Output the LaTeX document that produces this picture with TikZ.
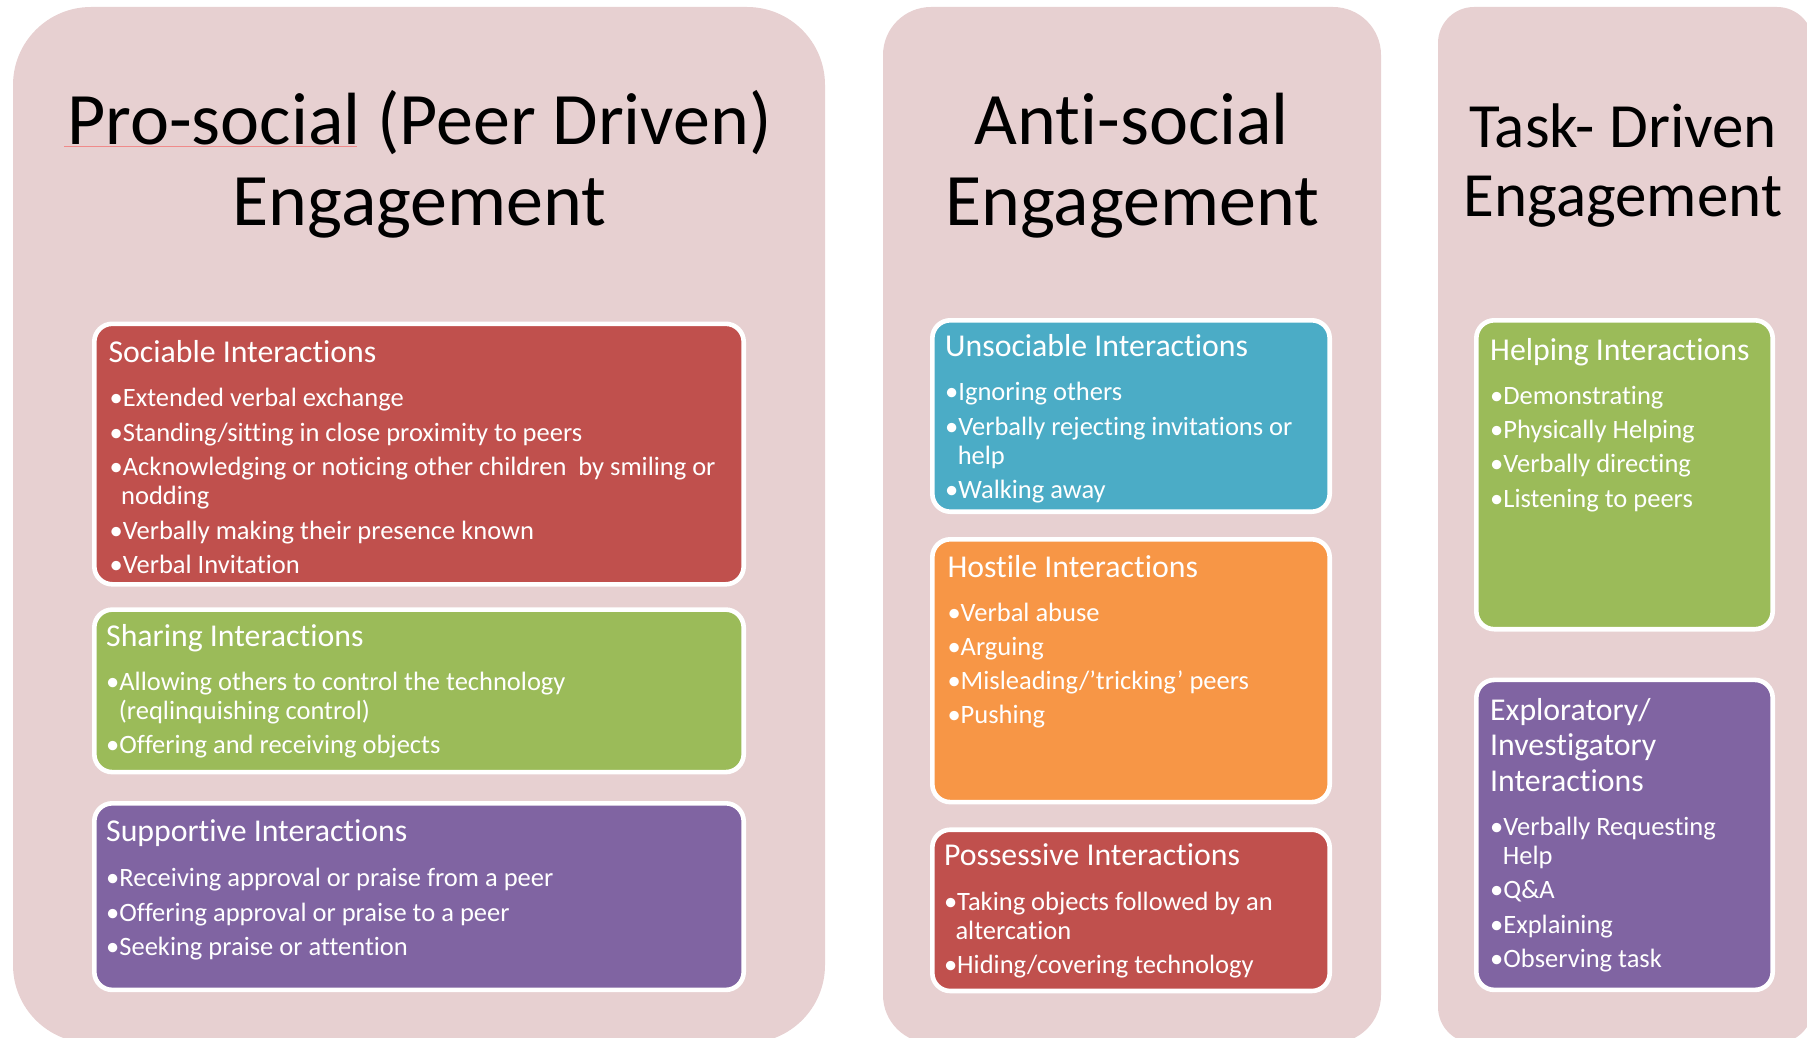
\documentclass[tikz,border=0pt]{standalone}
\usepackage{fontspec}
\setmainfont{Carlito}[Ligatures={NoCommon,NoContextual}]
\definecolor{panelbg}{RGB}{231,208,209}
\definecolor{boxred}{HTML}{C0504D}
\definecolor{boxgreen}{HTML}{9BBB59}
\definecolor{boxpurple}{HTML}{8064A2}
\definecolor{boxblue}{HTML}{4BACC6}
\definecolor{boxorange}{HTML}{F79646}
\definecolor{spellred}{HTML}{F08A8A}
\newcommand\mkbox[6]{%
  \node[itembox, fill=#2, minimum width={#5-#3-4.6}, minimum height={#6-#4-4.6}]
    (#1) at ({(#3+#5)/2},{(#4+#6)/2}) {};}
\begin{document}
\begin{tikzpicture}[x=1pt,y=-1pt,
  itembox/.style={rectangle, draw=white, line width=4.6pt, rounded corners=18pt, inner sep=0pt},
  maintitle/.style={anchor=base, inner sep=0pt, text=black, font=\fontsize{74}{80}\selectfont},
  tasktitle/.style={anchor=base, inner sep=0pt, text=black, font=\fontsize{63}{70}\selectfont},
  head/.style={anchor=base west, inner sep=0pt, text=white, font=\fontsize{31.8}{35}\selectfont},
  body/.style={anchor=base west, inner sep=0pt, text=white, font=\fontsize{26.5}{29}\selectfont}]
\useasboundingbox (0,0) rectangle (1807,1038);
\begin{scope}
\clip (0,0) rectangle (1807,1038);
\fill[panelbg, rounded corners=78pt] (13,7) rectangle (825,1043);
\fill[panelbg, rounded corners=48pt] (883,7) rectangle (1381,1043);
\fill[panelbg, rounded corners=36pt] (1438,7) rectangle (1813,1043);
\end{scope}

% titles
\node[maintitle] (t1a) at (419.5,144.5) {Pro-social (Peer Driven)};
\node[maintitle] (t1b) at (419.5,225.3) {Engagement};
\draw[spellred, line width=1pt] (64,146.3) -- (357,146.3);
\node[maintitle] (t2a) at (1132,144.5) {Anti-social};
\node[maintitle] (t2b) at (1132,225.3) {Engagement};
\node[tasktitle] (t3a) at (1623,147) {Task- Driven};
\node[tasktitle] (t3b) at (1623,216.8) {Engagement};

% boxes
\mkbox{sociable}{boxred}{92}{321.5}{746}{586.6}
\mkbox{sharing}{boxgreen}{92}{607.3}{746}{774.4}
\mkbox{supportive}{boxpurple}{92}{801}{746}{992.2}
\mkbox{unsociable}{boxblue}{930}{318}{1332}{514}
\mkbox{hostile}{boxorange}{930}{537}{1332}{804.4}
\mkbox{possessive}{boxred}{930}{827.4}{1332}{993.3}
\mkbox{helping}{boxgreen}{1474}{318}{1775}{631.5}
\mkbox{exploratory}{boxpurple}{1474}{677.6}{1775}{992.2}

% Sociable
\node[head] (soch) at (108.3,362.5) {Sociable Interactions};
\node[body] (soc1) at (109.5,406.5) {•Extended verbal exchange};
\node[body] (soc2) at (109.5,441) {•Standing/sitting in close proximity to peers};
\node[body] (soc3) at (109.5,475.5) {•Acknowledging or noticing other children\ \ by smiling or};
\node[body] (soc4) at (121,504.5) {nodding};
\node[body] (soc5) at (109.5,539) {•Verbally making their presence known};
\node[body] (soc6) at (109.5,573.5) {•Verbal Invitation};

% Sharing
\node[head] (shah) at (106,646) {Sharing Interactions};
\node[body] (sha1) at (106,690) {•Allowing others to control the technology};
\node[body] (sha2) at (118.7,719) {(reqlinquishing control)};
\node[body] (sha3) at (106,753.5) {•Offering and receiving objects};

% Supportive
\node[head] (suph) at (106,841.3) {Supportive Interactions};
\node[body] (sup1) at (106,886.8) {•Receiving approval or praise from a peer};
\node[body] (sup2) at (106,921.3) {•Offering approval or praise to a peer};
\node[body] (sup3) at (106,955.8) {•Seeking praise or attention};

% Unsociable
\node[head] (unsh) at (945,356.3) {Unsociable Interactions};
\node[body] (uns1) at (945,400.6) {•Ignoring others};
\node[body] (uns2) at (945,435.1) {•Verbally rejecting invitations or};
\node[body] (uns3) at (957.6,464.1) {help};
\node[body] (uns4) at (945,498.6) {•Walking away};

% Hostile
\node[head] (hosh) at (947.3,577.8) {Hostile Interactions};
\node[body] (hos1) at (947.3,621.1) {•Verbal abuse};
\node[body] (hos2) at (947.3,655.6) {•Arguing};
\node[body] (hos3) at (947.3,689.8) {•Misleading/’tricking’ peers};
\node[body] (hos4) at (947.3,723.3) {•Pushing};

% Possessive
\node[head] (posh) at (943.8,865.9) {Possessive Interactions};
\node[body] (pos1) at (943.8,910) {•Taking objects followed by an};
\node[body] (pos2) at (955.3,939) {altercation};
\node[body] (pos3) at (943.8,973.5) {•Hiding/covering technology};

% Helping
\node[head] (helh) at (1490,360) {Helping Interactions};
\node[body] (hel1) at (1490,404.1) {•Demonstrating};
\node[body] (hel2) at (1490,438.6) {•Physically Helping};
\node[body] (hel3) at (1490,472.6) {•Verbally directing};
\node[body] (hel4) at (1490,507.1) {•Listening to peers};

% Exploratory
\node[head] (exph1) at (1490,720.7) {Exploratory/};
\node[head] (exph2) at (1490,755.7) {Investigatory};
\node[head] (exph3) at (1490,791) {Interactions};
\node[body] (exp1) at (1490,835.1) {•Verbally Requesting};
\node[body] (exp2) at (1502.7,864.1) {Help};
\node[body] (exp3) at (1490,898.6) {•Q\&A};
\node[body] (exp4) at (1490,933.1) {•Explaining};
\node[body] (exp5) at (1490,967.6) {•Observing task};
\end{tikzpicture}
\end{document}
